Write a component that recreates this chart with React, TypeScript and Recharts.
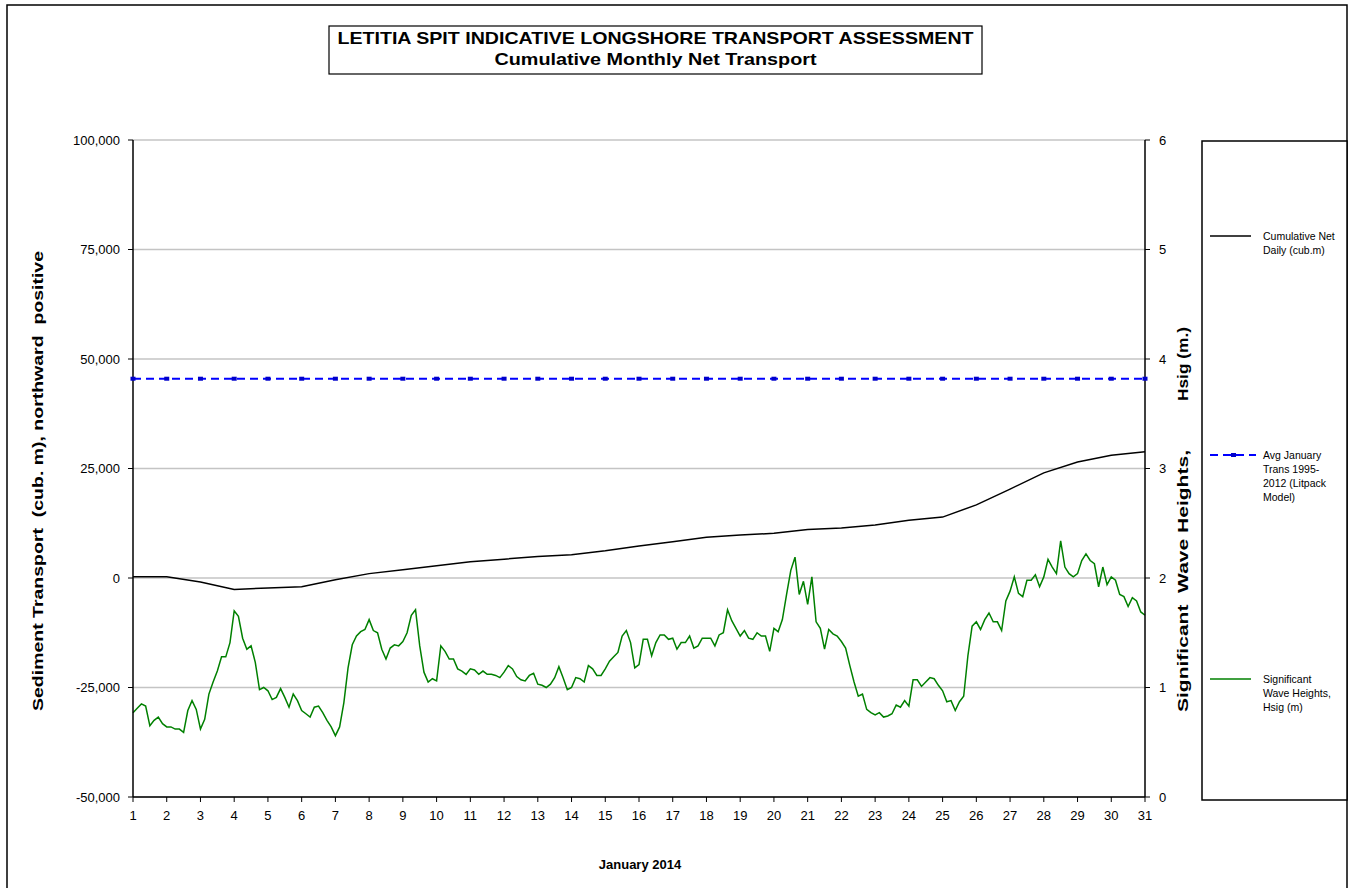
import { LineChart, Line, XAxis, YAxis, CartesianGrid } from 'recharts';

const FONT = '"Liberation Sans", Arial, sans-serif';

const dayTicks = [1, 2, 3, 4, 5, 6, 7, 8, 9, 10, 11, 12, 13, 14, 15, 16, 17, 18, 19, 20, 21, 22, 23, 24, 25, 26, 27, 28, 29, 30, 31];
const transportTicks = [-50000, -25000, 0, 25000, 50000, 75000, 100000];
const waveTicks = [0, 1, 2, 3, 4, 5, 6];

// cumulative net daily transport (cub.m), one value per day
const cumulativeNet = [
  300, 300, -900, -2600, -2300, -2000, -400, 1000, 1900, 2800,
  3700, 4300, 4900, 5300, 6200, 7300, 8300, 9300, 9800, 10200,
  11100, 11400, 12100, 13200, 13900, 16700, 20300, 24000, 26500, 28000,
  28800,
];

// long term January average (Litpack model)
const avgJanuaryTrans = 45500;

// Hsig (m), 3-hourly from 1 Jan 00:00
const waveStep = 0.125;
const waveHeights = [
  0.77, 0.81, 0.85, 0.83, 0.65, 0.70, 0.73, 0.67,
  0.64, 0.64, 0.62, 0.62, 0.59, 0.79, 0.88, 0.80,
  0.62, 0.71, 0.94, 1.05, 1.15, 1.28, 1.28, 1.41,
  1.70, 1.65, 1.45, 1.35, 1.38, 1.23, 0.98, 1.00,
  0.97, 0.89, 0.91, 0.99, 0.91, 0.82, 0.94, 0.88,
  0.79, 0.76, 0.73, 0.82, 0.83, 0.77, 0.70, 0.64,
  0.56, 0.64, 0.86, 1.18, 1.39, 1.47, 1.51, 1.53,
  1.62, 1.52, 1.50, 1.35, 1.26, 1.36, 1.39, 1.38,
  1.42, 1.50, 1.66, 1.71, 1.38, 1.14, 1.05, 1.08,
  1.06, 1.38, 1.33, 1.26, 1.26, 1.17, 1.15, 1.12,
  1.17, 1.16, 1.12, 1.15, 1.12, 1.12, 1.11, 1.09,
  1.14, 1.20, 1.17, 1.10, 1.07, 1.06, 1.11, 1.13,
  1.03, 1.02, 1.00, 1.03, 1.09, 1.19, 1.09, 0.98,
  1.00, 1.09, 1.08, 1.05, 1.20, 1.17, 1.11, 1.11,
  1.17, 1.24, 1.28, 1.32, 1.47, 1.52, 1.41, 1.18,
  1.21, 1.44, 1.44, 1.29, 1.41, 1.48, 1.48, 1.44,
  1.45, 1.35, 1.41, 1.41, 1.47, 1.36, 1.38, 1.45,
  1.45, 1.45, 1.38, 1.48, 1.50, 1.71, 1.61, 1.54,
  1.47, 1.52, 1.45, 1.44, 1.50, 1.47, 1.47, 1.33,
  1.54, 1.51, 1.62, 1.85, 2.07, 2.19, 1.85, 1.97,
  1.76, 2.01, 1.60, 1.54, 1.35, 1.53, 1.49, 1.47,
  1.42, 1.36, 1.20, 1.05, 0.92, 0.94, 0.80, 0.77,
  0.75, 0.77, 0.73, 0.74, 0.76, 0.84, 0.82, 0.88,
  0.83, 1.07, 1.07, 1.01, 1.05, 1.09, 1.08, 1.02,
  0.97, 0.87, 0.88, 0.79, 0.87, 0.92, 1.29, 1.56,
  1.60, 1.53, 1.62, 1.68, 1.60, 1.60, 1.52, 1.79,
  1.88, 2.01, 1.86, 1.83, 1.98, 1.98, 2.03, 1.92,
  2.01, 2.17, 2.10, 2.04, 2.34, 2.10, 2.04, 2.01,
  2.04, 2.16, 2.22, 2.16, 2.13, 1.92, 2.10, 1.94,
  2.01, 1.98, 1.85, 1.83, 1.74, 1.82, 1.79, 1.69,
  1.66,
];

const rows = waveHeights.map((h, i) => {
  const day = dayTicks[0] + i * waveStep;
  const idx = dayTicks.indexOf(day);
  return {
    day,
    wave: h,
    cum: idx >= 0 ? cumulativeNet[idx] : null,
    avg: idx >= 0 ? avgJanuaryTrans : null,
  };
});

const tickStyle = { fill: '#000', fontSize: 13, fontFamily: FONT };
const axisLine = { stroke: '#000', strokeWidth: 1.5 };

const SquareDot = (props: any) => {
  const { cx, cy, value } = props;
  if (value == null || cy == null) return null;
  return <rect key={`d${cx}`} x={cx - 2.5} y={cy - 2} width={5} height={4} fill="#0000cc" />;
};

const App = () => {
  return (
    <div style={{ position: 'absolute', left: 0, top: 0, width: 1351, height: 888, background: '#fff', fontFamily: FONT }}>
      <LineChart width={1351} height={888} data={rows} margin={{ top: 140, right: 146, bottom: 61, left: 0 }}>
        <CartesianGrid yAxisId="left" vertical={false} stroke="#c4c4c4" strokeWidth={1.5} />
        <XAxis
          dataKey="day"
          type="number"
          domain={[1, 31]}
          ticks={dayTicks}
          interval={0}
          height={30}
          tickSize={5}
          tickMargin={9}
          axisLine={axisLine}
          tickLine={{ stroke: '#000' }}
          tick={tickStyle}
        />
        <YAxis
          yAxisId="left"
          width={133}
          domain={[-50000, 100000]}
          ticks={transportTicks}
          interval={0}
          tickSize={5}
          tickMargin={8}
          axisLine={axisLine}
          tickLine={{ stroke: '#000' }}
          tick={tickStyle}
          tickFormatter={(v: number) => v.toLocaleString('en-US')}
        />
        <YAxis
          yAxisId="right"
          orientation="right"
          width={60}
          domain={[0, 6]}
          ticks={waveTicks}
          interval={0}
          tickSize={5}
          tickMargin={9}
          axisLine={axisLine}
          tickLine={{ stroke: '#000' }}
          tick={tickStyle}
        />
        <Line
          yAxisId="right"
          dataKey="wave"
          stroke="#008000"
          strokeWidth={1.5}
          dot={false}
          isAnimationActive={false}
        />
        <Line
          yAxisId="left"
          dataKey="avg"
          stroke="#0000ff"
          strokeWidth={2}
          strokeDasharray="8 5"
          connectNulls
          dot={SquareDot}
          activeDot={false}
          isAnimationActive={false}
        />
        <Line
          yAxisId="left"
          dataKey="cum"
          stroke="#000"
          strokeWidth={1.5}
          connectNulls
          dot={false}
          isAnimationActive={false}
        />
      </LineChart>

      <svg width={1351} height={888} style={{ position: 'absolute', left: 0, top: 0, pointerEvents: 'none' }}>
        {/* chart area frame */}
        <rect x={7} y={5} width={1340} height={900} fill="none" stroke="#000" strokeWidth={1.5} />

        {/* title */}
        <rect x={329} y={26} width={653} height={48} fill="#fff" stroke="#000" strokeWidth={1.2} />
        <text x={655.5} y={44} textAnchor="middle" fontSize={17} fontWeight="bold" fontFamily={FONT}
          textLength={636} lengthAdjust="spacingAndGlyphs">
          LETITIA SPIT INDICATIVE LONGSHORE TRANSPORT ASSESSMENT
        </text>
        <text x={655.5} y={65} textAnchor="middle" fontSize={17} fontWeight="bold" fontFamily={FONT}
          textLength={322} lengthAdjust="spacingAndGlyphs">
          Cumulative Monthly Net Transport
        </text>

        {/* axis titles */}
        <text
          transform="translate(43,481) rotate(-90)"
          textAnchor="middle"
          fontSize={15}
          fontWeight="bold"
          fontFamily={FONT}
          textLength={460}
          lengthAdjust="spacingAndGlyphs"
          style={{ whiteSpace: 'pre' }}
        >
          {'Sediment Transport  (cub. m), northward  positive'}
        </text>
        <text
          transform="translate(1188,712) rotate(-90)"
          textAnchor="start"
          fontSize={15}
          fontWeight="bold"
          fontFamily={FONT}
          textLength={262}
          lengthAdjust="spacingAndGlyphs"
          style={{ whiteSpace: 'pre' }}
        >
          {'Significant  Wave Heights,'}
        </text>
        <text
          transform="translate(1188,401) rotate(-90)"
          textAnchor="start"
          fontSize={15}
          fontWeight="bold"
          fontFamily={FONT}
          textLength={74}
          lengthAdjust="spacingAndGlyphs"
        >
          Hsig (m.)
        </text>
        <text x={640} y={869} textAnchor="middle" fontSize={13} fontWeight="bold" fontFamily={FONT}>
          January 2014
        </text>

        {/* legend */}
        <rect x={1202} y={141} width={145} height={659} fill="#fff" stroke="#000" strokeWidth={1.5} />
        <line x1={1210} y1={236} x2={1251} y2={236} stroke="#000" strokeWidth={1.5} />
        <text x={1263} y={239.5} fontSize={10.5} fontFamily={FONT}>
          <tspan x={1263}>Cumulative Net</tspan>
          <tspan x={1263} dy={14}>Daily (cub.m)</tspan>
        </text>

        <line x1={1210} y1={455} x2={1256} y2={455} stroke="#0000ff" strokeWidth={2} strokeDasharray="8 5" />
        <rect x={1231} y={453} width={5} height={4} fill="#0000cc" />
        <text x={1263} y={458.5} fontSize={10.5} fontFamily={FONT}>
          <tspan x={1263}>Avg January</tspan>
          <tspan x={1263} dy={14}>Trans 1995-</tspan>
          <tspan x={1263} dy={14}>2012 (Litpack</tspan>
          <tspan x={1263} dy={14}>Model)</tspan>
        </text>

        <line x1={1210} y1={679} x2={1251} y2={679} stroke="#008000" strokeWidth={1.5} />
        <text x={1263} y={682.5} fontSize={10.5} fontFamily={FONT}>
          <tspan x={1263}>Significant</tspan>
          <tspan x={1263} dy={14}>Wave Heights,</tspan>
          <tspan x={1263} dy={14}>Hsig (m)</tspan>
        </text>
      </svg>
    </div>
  );
};

export default App;
